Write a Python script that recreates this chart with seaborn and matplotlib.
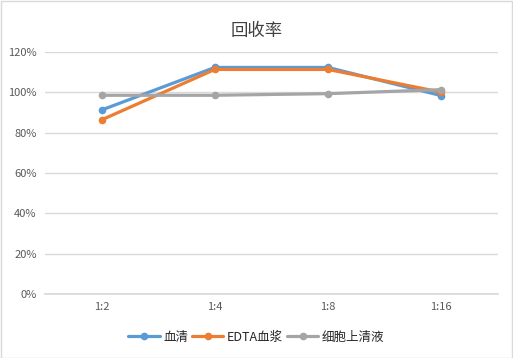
import numpy as np
import pandas as pd
import matplotlib
matplotlib.use("Agg")
import matplotlib.pyplot as plt
import seaborn as sns
from matplotlib.ticker import PercentFormatter
from matplotlib.patches import Rectangle

# data
categories = ["1:2", "1:4", "1:8", "1:16"]
serum = [91.2, 112.3, 112.3, 98.3]
edta = [86.3, 111.3, 111.3, 100.0]
supernatant = [98.5, 98.5, 99.3, 101.3]
series_names = ["血清", "EDTA血浆", "细胞上清液"]
colors = ["#5B9BD5", "#ED7D31", "#A5A5A5"]

df = pd.DataFrame({
    "dilution": categories * 3,
    "pos": list(range(len(categories))) * 3,
    "value": serum + edta + supernatant,
    "sample": np.repeat(series_names, len(categories)),
})

sns.set_theme(style="white")
plt.rcParams["font.family"] = ["Noto Sans CJK SC", "DejaVu Sans"]

fig = plt.figure(figsize=(5.13, 3.58), dpi=100)
ax = fig.add_axes([0.0877, 0.179, 0.883, 0.676])

sns.lineplot(data=df, x="pos", y="value", hue="sample", palette=colors,
             marker="o", markersize=5.5, markeredgewidth=0, linewidth=2.3,
             ax=ax, legend=True)

ax.set_xlim(-0.5, len(categories) - 0.5)
ax.set_ylim(0, 120)
ax.set_yticks(np.arange(0, 121, 20))
ax.yaxis.set_major_formatter(PercentFormatter(decimals=0))
ax.set_xticks(range(len(categories)))
ax.set_xticklabels(categories)
ax.grid(axis="y", color="#D9D9D9", linewidth=1)
ax.set_axisbelow(True)
for side in ["top", "right", "left"]:
    ax.spines[side].set_visible(False)
ax.spines["bottom"].set_color("#D9D9D9")
ax.tick_params(axis="both", length=0, labelsize=8, colors="#595959", pad=6)
ax.set_xlabel("")
ax.set_ylabel("")

fig.text(0.5, 0.913, "回收率", ha="center", va="center", fontsize=12.5,
         fontweight="light", color="#404040")

handles, labels = ax.get_legend_handles_labels()
ax.legend(handles, labels, loc="center", ncol=3, frameon=False, fontsize=9,
          handlelength=2.5, handletextpad=0.3, columnspacing=0.3,
          labelcolor="#262626")
leg = ax.get_legend()
leg.set_bbox_to_anchor((0.5, 0.058), transform=fig.transFigure)

fig.patches.append(Rectangle((0.001, 0.001), 0.997, 0.996, transform=fig.transFigure,
                             fill=False, edgecolor="#D9D9D9", linewidth=1))

fig.savefig("out.png", dpi=100)
